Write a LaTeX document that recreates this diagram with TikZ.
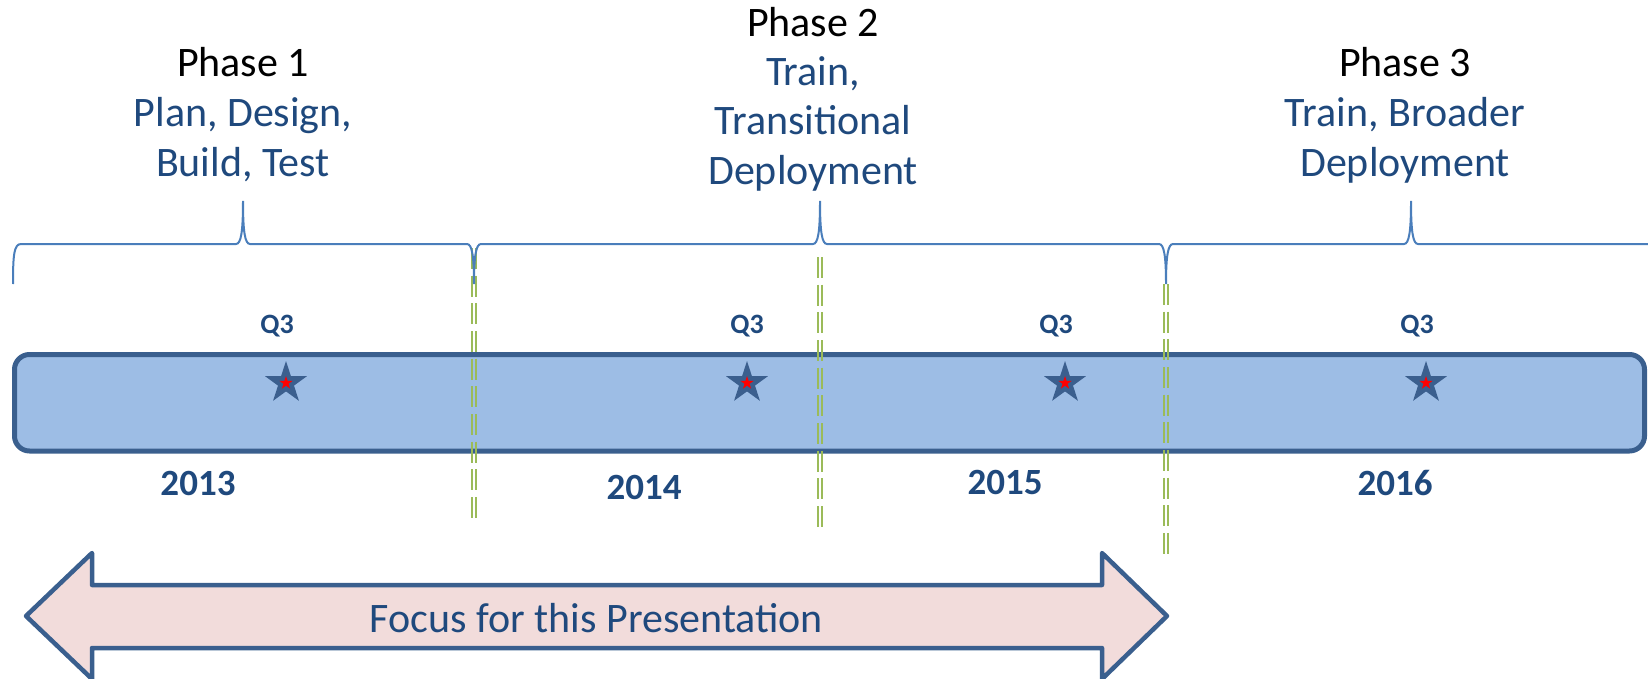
\documentclass[tikz,border=0pt]{standalone}
\usepackage{fontspec}
\setmainfont{Carlito}
\usetikzlibrary{shapes.geometric}
\definecolor{txtblue}{HTML}{1F497D}
\definecolor{barfill}{HTML}{9DBDE5}
\definecolor{bardraw}{HTML}{3A5F8E}
\definecolor{bracecol}{HTML}{4A7EBB}
\definecolor{divgreen}{HTML}{9BBB59}
\definecolor{arrowfill}{HTML}{F2DCDB}
\definecolor{starcol}{HTML}{3B5F8E}
\begin{document}
\begin{tikzpicture}[x=1pt,y=-1pt,
  phasehead/.style={anchor=base,inner sep=0pt,font=\fontsize{42}{49}\selectfont,text=black},
  phasetext/.style={anchor=base,inner sep=0pt,font=\fontsize{42}{49}\selectfont,text=txtblue},
  yearlbl/.style={anchor=base,inner sep=0pt,font=\fontsize{37}{44}\selectfont\bfseries,text=txtblue},
  qlbl/.style={anchor=base,inner sep=0pt,font=\fontsize{28}{34}\selectfont\bfseries,text=txtblue},
  bigstar/.style={star,star points=5,star point ratio=2.618,minimum size=44pt,inner sep=0pt,fill=starcol},
  redstar/.style={star,star points=5,star point ratio=2.618,minimum size=14pt,inner sep=0pt,fill=red},
  divider/.style={draw=divgreen,line width=2pt,dash pattern=on 21pt off 6.67pt},
  bracestyle/.style={draw=bracecol,line width=2pt},
  barbox/.style={draw=bardraw,fill=barfill,line width=5pt,rounded corners=15pt,inner sep=0pt},
  focusarrow/.style={draw=bardraw,fill=arrowfill,line width=4.5pt,line join=round}
]
\useasboundingbox (0,0) rectangle (1648,679);

% timeline bar
\node[barbox,minimum width=1630pt,minimum height=96.5pt] (bar) at (829.5,402.75) {};

% stars
\foreach \n/\x in {s1/286,s2/747,s3/1065,s4/1426}{
  \node[bigstar] (\n) at (\x,383) {};
  \node[redstar] (\n r) at (\x,383) {};
}

% Q3 labels
\node[qlbl] (q1) at (277,333) {Q3};
\node[qlbl] (q2) at (747,333) {Q3};
\node[qlbl] (q3) at (1056,333) {Q3};
\node[qlbl] (q4) at (1417,333) {Q3};

% years
\node[yearlbl] (y13) at (198,495) {2013};
\node[yearlbl] (y14) at (644,499) {2014};
\node[yearlbl] (y15) at (1005,494) {2015};
\node[yearlbl] (y16) at (1395,495) {2016};

% dividers (pairs of dashed green lines)
\coordinate (d1t) at (474,248); \coordinate (d1b) at (474,518);
\coordinate (d2t) at (820,257); \coordinate (d2b) at (820,527);
\coordinate (d3t) at (1166,284); \coordinate (d3b) at (1166,554);
\foreach \d in {1,2,3}{
  \draw[divider] ([xshift=-2.25pt]d\d t) -- ([xshift=-2.25pt]d\d b);
  \draw[divider] ([xshift=2.25pt]d\d t) -- ([xshift=2.25pt]d\d b);
}

% braces
\draw[bracestyle] (13,284) .. controls (13,255) and (14,244) .. (21,244)
  -- (236,244) .. controls (241,244) and (243,232) .. (243,201)
  .. controls (243,232) and (245,244) .. (250,244)
  -- (467,244) .. controls (472,244) and (474,256) .. (474,284)
  .. controls (474,256) and (476,244) .. (481,244)
  -- (813,244) .. controls (818,244) and (820,232) .. (820,201)
  .. controls (820,232) and (822,244) .. (827,244)
  -- (1159,244) .. controls (1164,244) and (1166,256) .. (1166,284)
  .. controls (1166,256) and (1168,244) .. (1173,244)
  -- (1404,244) .. controls (1409,244) and (1411,232) .. (1411,201)
  .. controls (1411,232) and (1413,244) .. (1418,244)
  -- (1660,244);

% phase texts
\node[phasehead] (p1h) at (243,77) {Phase 1};
\node[phasetext] (p1a) at (243,127) {Plan, Design,};
\node[phasetext] (p1b) at (243,177) {Build, Test};

\node[phasehead] (p2h) at (813,37) {Phase 2};
\node[phasetext] (p2a) at (813,86) {Train,};
\node[phasetext] (p2b) at (813,135) {Transitional};
\node[phasetext] (p2c) at (813,185) {Deployment};

\node[phasehead] (p3h) at (1405,77) {Phase 3};
\node[phasetext] (p3a) at (1405,127) {Train, Broader};
\node[phasetext] (p3b) at (1405,177) {Deployment};

% focus arrow
\draw[focusarrow] (26,616) -- (92,553) -- (92,585) -- (1102,585) -- (1102,553)
  -- (1167,616) -- (1102,679) -- (1102,648) -- (92,648) -- (92,679) -- cycle;
\node[phasetext] (focus) at (596.5,632) {Focus for this Presentation};
\end{tikzpicture}
\end{document}
